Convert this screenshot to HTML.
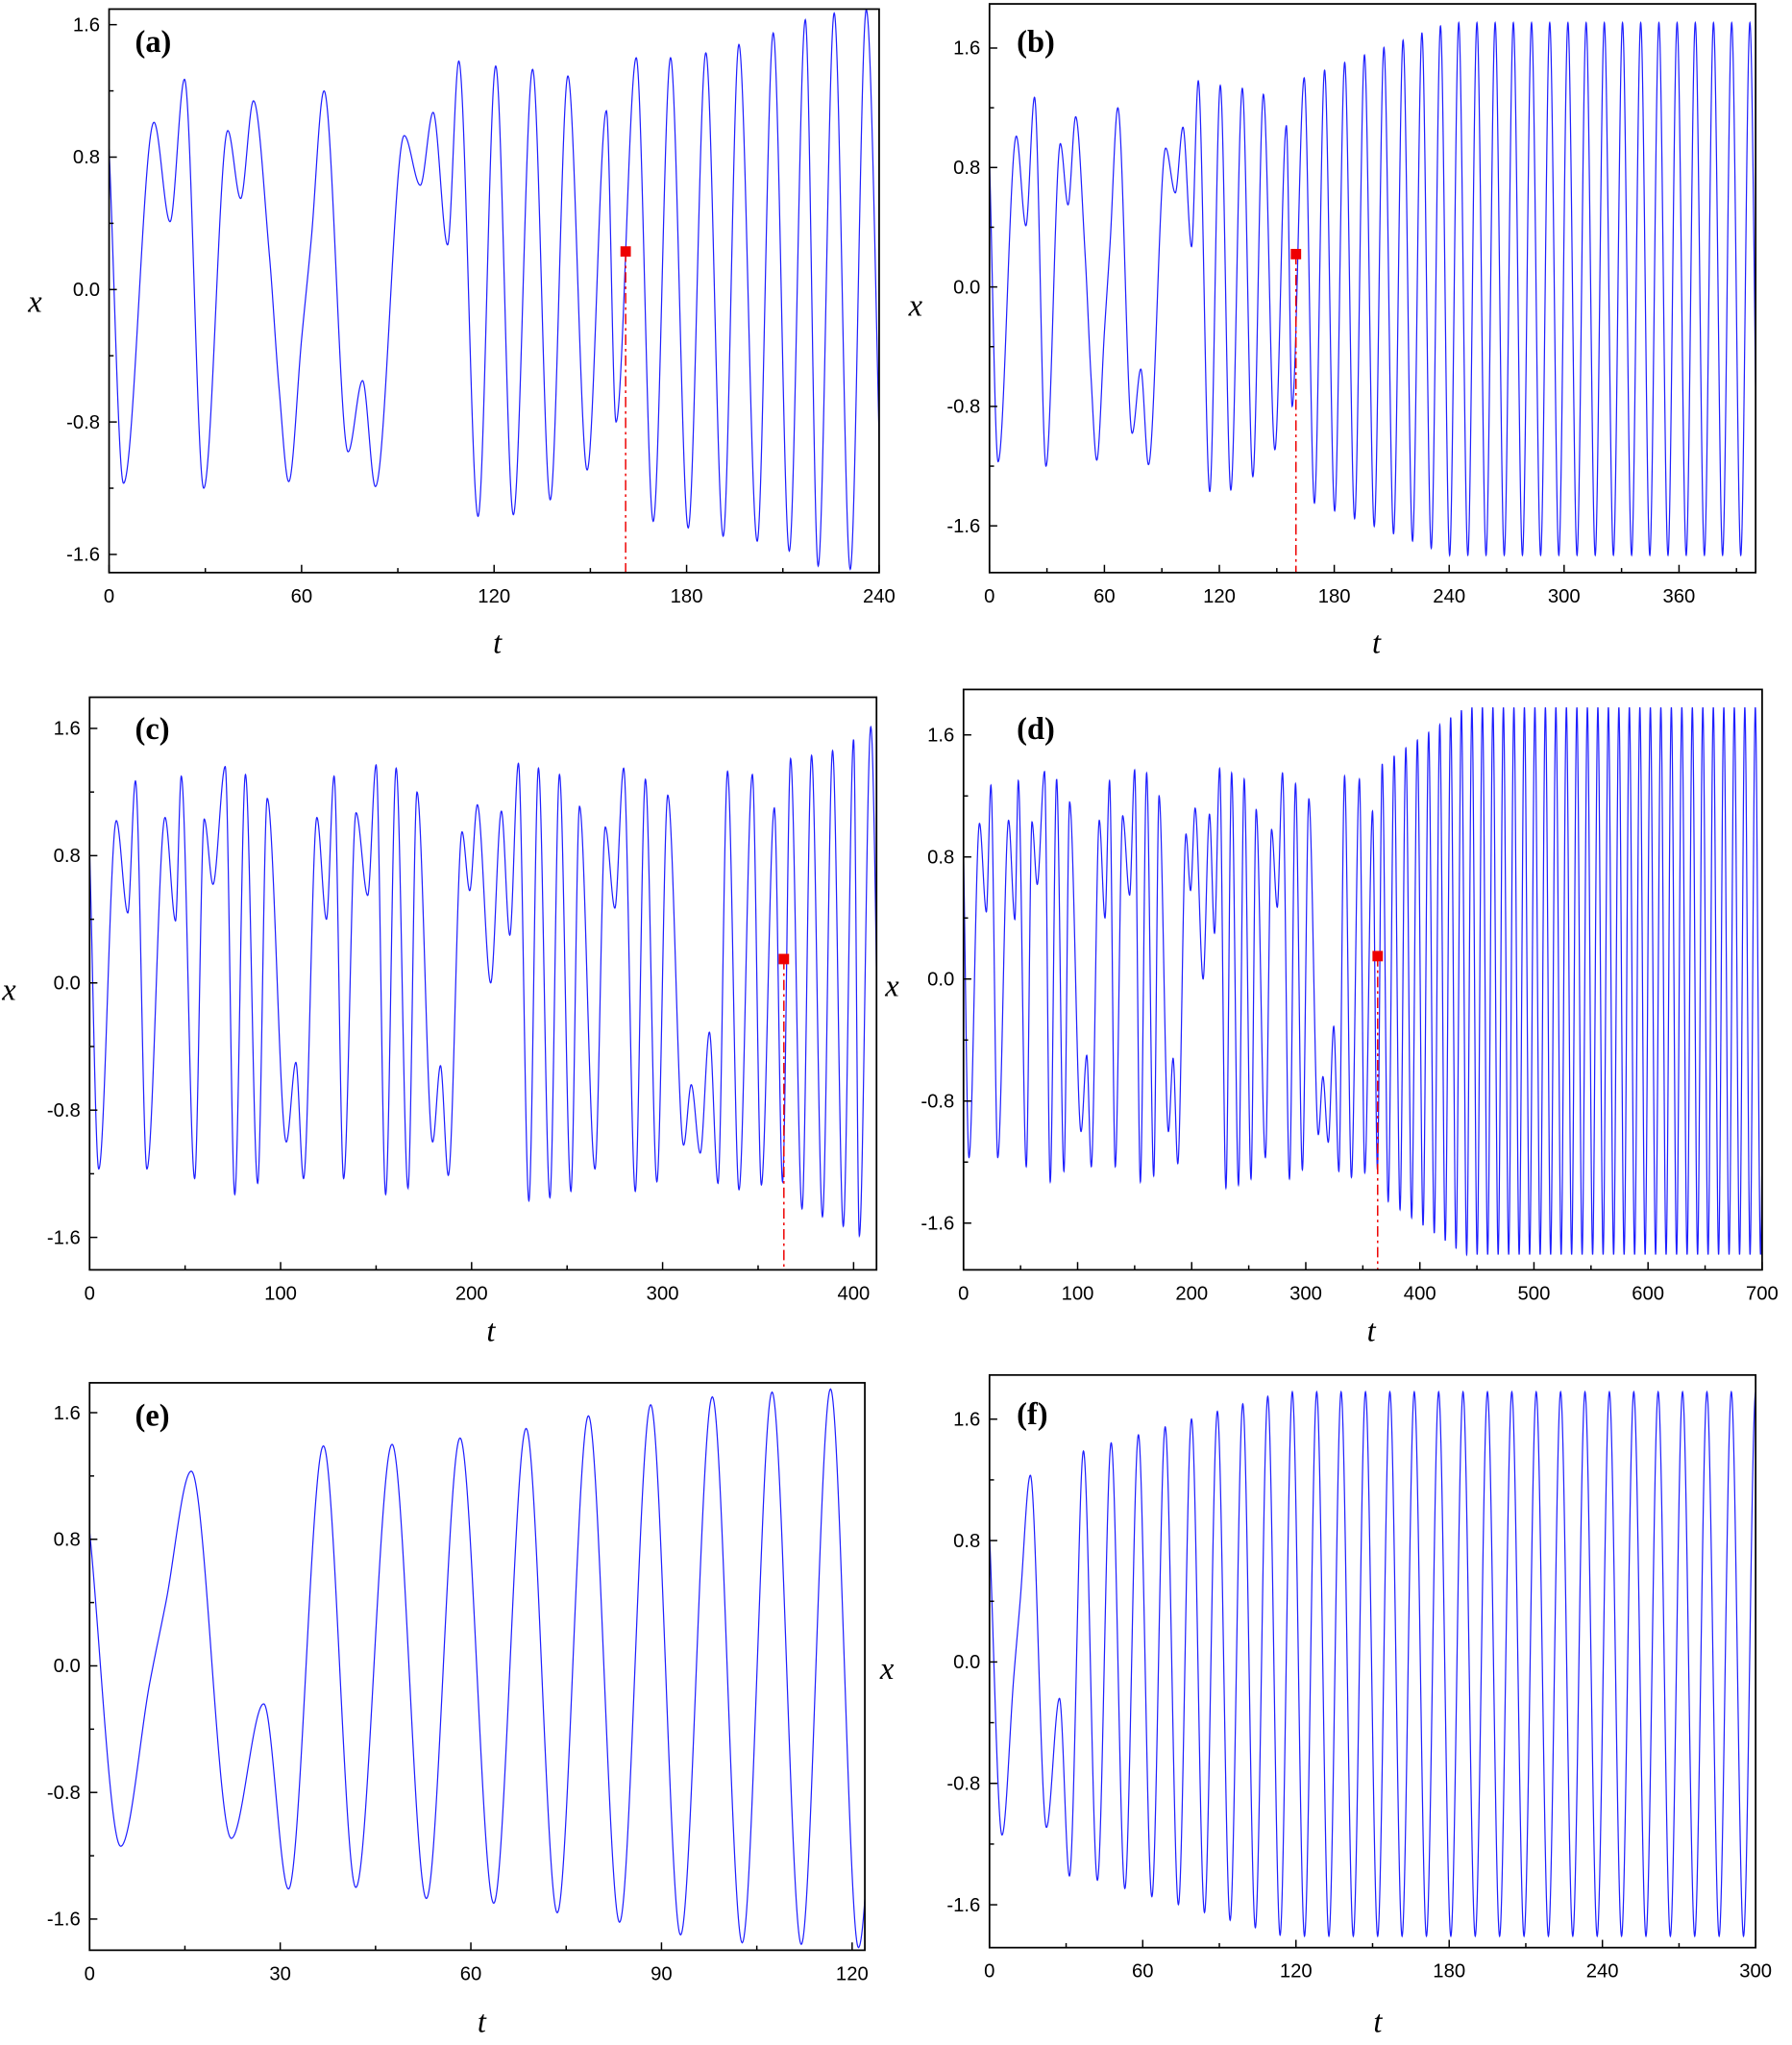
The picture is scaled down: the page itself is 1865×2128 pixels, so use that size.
<!DOCTYPE html>
<html><head><meta charset="utf-8"><style>
html,body{margin:0;padding:0;background:#fff;}
svg{display:block;}
text{font-family:"Liberation Sans",sans-serif;}
</style></head><body>
<svg id="s" xmlns="http://www.w3.org/2000/svg" width="1865" height="2128" viewBox="0 0 1380 1575" preserveAspectRatio="none"></svg>
<script>
const NS="http://www.w3.org/2000/svg";
const S=document.getElementById('s');
function el(n,a,txt){const e=document.createElementNS(NS,n);for(const k in a)e.setAttribute(k,a[k]);if(txt!==undefined)e.textContent=txt;S.appendChild(e);return e;}
function mono(P,dt){
  const n=P.length,d=[],m=[];
  for(let i=0;i<n-1;i++)d.push((P[i+1][1]-P[i][1])/(P[i+1][0]-P[i][0]));
  for(let i=0;i<n;i++){
    if(i==0)m.push(d[0]);else if(i==n-1)m.push(d[n-2]);
    else if(d[i-1]*d[i]<=0)m.push(0);else{m.push(2/(1/d[i-1]+1/d[i]));}
  }
  const out=[];
  for(let i=0;i<n-1;i++){
    const t0=P[i][0],t1=P[i+1][0],h=t1-t0;
    for(let t=t0;t<t1;t+=dt){
      const s=(t-t0)/h,s2=s*s,s3=s2*s;
      const v=(2*s3-3*s2+1)*P[i][1]+(s3-2*s2+s)*h*m[i]+(-2*s3+3*s2)*P[i+1][1]+(s3-s2)*h*m[i+1];
      out.push([t,v]);
    }
  }
  out.push(P[n-1]);return out;
}
function tail(t0,end,p0,p1,a0,a1,tsat,sign){
  const r=[];let t=t0,sg=sign||1;
  while(t<end+12){const f=Math.min(1,(t-t0)/(tsat-t0));const a=a0+(a1-a0)*f;const p=p0+(p1-p0)*f;
    r.push([t,sg>0?a:-a*1.015]);t+=p/2;sg=-sg;}
  return r;
}
const A=[[0,0.85],[4.5,-1.17],[14,1.01],[19,0.41],[23.5,1.27],[29.5,-1.2],[37,0.96],[41,0.55],[45,1.14],[50,0.2],[53,-0.6],[56,-1.16],[60,-0.3],[63,0.3],[67,1.2],[74.5,-0.98],[79,-0.55],[83,-1.19],[92,0.93],[97,0.63],[101,1.07],[105.5,0.27],[109,1.38],[115,-1.37],[120.5,1.35],[126,-1.36],[132,1.33],[137.5,-1.27],[143,1.29],[149,-1.09],[155,1.08],[158,-0.8],[164.3,1.40],[169.6,-1.4],[175,1.40],[180.5,-1.44],[186,1.43],[191.4,-1.49],[196.3,1.48],[202,-1.52],[207,1.55],[212,-1.58],[217,1.63],[221,-1.67],[226,1.67],[231,-1.69],[236,1.69],[241,-1.7]];
const B=A.filter(p=>p[0]<=158).concat(tail(164.3,400,10.7,9.5,1.40,1.77,240,1));
const C=[[0,0.83],[4.8,-1.17],[14,1.02],[20,0.44],[24,1.27],[30,-1.17],[39.5,1.04],[45,0.39],[48,1.30],[55,-1.23],[60,1.03],[64.6,0.62],[71,1.36],[76,-1.33],[81.6,1.31],[88,-1.26],[93,1.16],[103,-1.0],[108,-0.5],[112,-1.23],[119,1.04],[124,0.4],[128,1.3],[133,-1.23],[139.5,1.07],[145.6,0.55],[150,1.37],[155,-1.33],[160.5,1.35],[166.7,-1.29],[171.4,1.2],[179.6,-1.0],[183.7,-0.52],[187.8,-1.21],[195,0.95],[199,0.58],[203,1.12],[210,0.0],[215.6,1.08],[220,0.3],[224.5,1.38],[230,-1.37],[235,1.35],[241,-1.35],[246,1.31],[252,-1.31],[256.5,1.11],[264.6,-1.17],[270,0.98],[275,0.47],[279.6,1.35],[285.7,-1.31],[291,1.28],[297,-1.25],[302.7,1.18],[311,-1.02],[315,-0.64],[319.7,-1.07],[324.5,-0.31],[329,-1.26],[334,1.33],[340,-1.30],[347,1.31],[351.7,-1.27],[358.5,1.1],[362.8,-1.25],[367,1.41],[373,-1.42],[378,1.43],[383.7,-1.47],[389,1.46],[394.6,-1.53],[400,1.53],[403,-1.59],[409,1.61],[414,-1.5]];
const D=C.filter(p=>p[0]<=362.8).concat(tail(367,700,10.5,9.2,1.41,1.78,440,1));
const E=[[0,0.85],[4.9,-1.14],[9.5,-0.1],[12,0.4],[16,1.23],[22.3,-1.09],[27.4,-0.24],[31.3,-1.41],[36.8,1.39],[41.9,-1.40],[47.6,1.40],[53,-1.47],[58.3,1.44],[63.6,-1.50],[68.7,1.50],[73.6,-1.56],[78.5,1.58],[83.4,-1.62],[88.3,1.65],[93,-1.70],[98,1.70],[102.7,-1.75],[107.4,1.73],[112,-1.76],[116.6,1.75],[121,-1.78],[125,1.0]];
const F=E.filter(p=>p[0]<=31.3).concat(tail(36.8,300,10.9,9.55,1.39,1.78,115,1));
const panels=[
 {L:84,R:677,T:7,B:441,t1:240,y16:19,y0:223,xt:[0,60,120,180,240],mn:30,P:A,mk:[161,0.23],lab:'(a)',lx:104,ly:40,xl:[27,240],tl:[383,503]},
 {L:762,R:1352,T:3,B:441,t1:400,y16:37,y0:221,xt:[0,60,120,180,240,300,360],mn:30,P:B,mk:[160,0.22],lab:'(b)',lx:783,ly:40,xl:[705,243],tl:[1060,503]},
 {L:69,R:675,T:537,B:978,t1:412,y16:561,y0:757,xt:[0,100,200,300,400],mn:50,P:C,mk:[363.5,0.15],lab:'(c)',lx:104,ly:569,xl:[7,770],tl:[378,1033]},
 {L:742,R:1357,T:531,B:978,t1:700,y16:566,y0:754,xt:[0,100,200,300,400,500,600,700],mn:50,P:D,mk:[363,0.15],lab:'(d)',lx:783,ly:569,xl:[687,767],tl:[1056,1033]},
 {L:69,R:666,T:1065,B:1502,t1:122,y16:1088,y0:1283,xt:[0,30,60,90,120],mn:15,P:E,lab:'(e)',lx:104,ly:1098,tl:[371,1565]},
 {L:762,R:1352,T:1059,B:1500,t1:300,y16:1093,y0:1280,xt:[0,60,120,180,240,300],mn:30,P:F,lab:'(f)',lx:783,ly:1097,xl:[683,1293],tl:[1061,1565]}
];
panels.forEach((p,i)=>{
  const sx=t=>p.L+(t)/p.t1*(p.R-p.L);
  const sy=v=>p.y0-v*(p.y0-p.y16)/1.6;
  const cid='c'+i;
  const cp=el('clipPath',{id:cid});const r=document.createElementNS(NS,'rect');
  r.setAttribute('x',p.L);r.setAttribute('y',p.T);r.setAttribute('width',p.R-p.L);r.setAttribute('height',p.B-p.T);cp.appendChild(r);
  const pts=mono(p.P,0.1).filter(q=>q[0]<=p.t1+1);
  let d='';pts.forEach((q,k)=>{d+=(k?'L':'M')+sx(q[0]).toFixed(2)+' '+sy(q[1]).toFixed(2);});
  el('path',{d:d,fill:'none',stroke:'#1f1fff','stroke-width':0.9,'clip-path':'url(#'+cid+')'});
  if(p.mk){const mx=sx(p.mk[0]),my=sy(p.mk[1]);
    el('line',{x1:mx,y1:my,x2:mx,y2:p.B,stroke:'#e00','stroke-width':1.1,'stroke-dasharray':'8,3,2,3'});
    el('rect',{x:mx-4,y:my-4,width:8,height:8,fill:'#e00'});}
  el('rect',{x:p.L,y:p.T,width:p.R-p.L,height:p.B-p.T,fill:'none',stroke:'#000','stroke-width':1.3});
  // y ticks
  for(let v=-2.0;v<=2.01;v+=0.4){const y=sy(v);if(y<p.T+1||y>p.B-1)continue;
    const major=Math.abs(Math.round(v/0.8)*0.8-v)<1e-6;
    el('line',{x1:p.L,y1:y,x2:p.L+(major?6:3.5),y2:y,stroke:'#000','stroke-width':1.1});
    if(major)el('text',{x:p.L-7,y:y+5,'text-anchor':'end','font-size':15},(Math.abs(v)<1e-6?'0.0':v.toFixed(1)));}
  for(let t=0;t<=p.t1+0.01;t+=p.mn){const x=sx(t);const major=p.xt.some(z=>Math.abs(z-t)<1e-6);
    el('line',{x1:x,y1:p.B,x2:x,y2:p.B-(major?6:3.5),stroke:'#000','stroke-width':1.1});}
  p.xt.forEach(t=>el('text',{x:sx(t),y:p.B+23,'text-anchor':'middle','font-size':15},String(t)));
  const lb=el('text',{x:p.lx,y:p.ly,'font-size':24,'font-weight':'bold'},p.lab);lb.style.fontFamily='"Liberation Serif",serif';
  if(p.xl){const t=el('text',{x:p.xl[0],y:p.xl[1],'text-anchor':'middle','font-size':24,'font-style':'italic'},'x');t.style.fontFamily='"Liberation Serif",serif';}
  const tt=el('text',{x:p.tl[0],y:p.tl[1],'text-anchor':'middle','font-size':24,'font-style':'italic'},'t');tt.style.fontFamily='"Liberation Serif",serif';
});
</script>
</body></html>
